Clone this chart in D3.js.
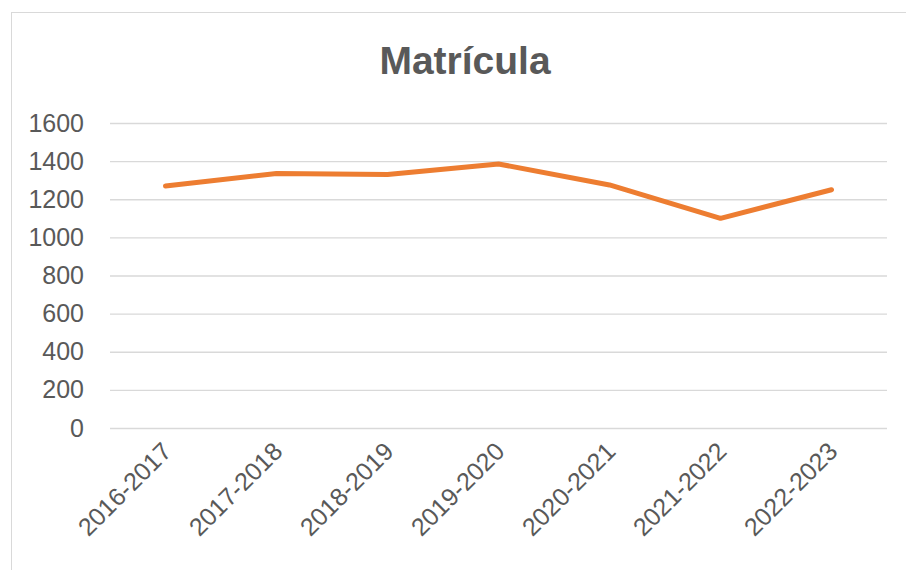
<!DOCTYPE html>
<html lang="es">
<head>
<meta charset="UTF-8">
<title>Matrícula</title>
<style>
  body { margin: 0; background: #fff; }
  svg { display: block; }
  .axis text { font-family: "Liberation Sans", Arial, sans-serif; fill: #595959; }
</style>
</head>
<body>
<svg width="906" height="570"></svg>
<script src="https://cdnjs.cloudflare.com/ajax/libs/d3/7.8.5/d3.min.js"></script>
<script>
// datos
const years = ['2016-2017', '2017-2018', '2018-2019', '2019-2020', '2020-2021', '2021-2022', '2022-2023'];
const matricula = [1270, 1335, 1330, 1385, 1275, 1100, 1250];
const yTicks = [0, 200, 400, 600, 800, 1000, 1200, 1400, 1600];

const svg = d3.select('svg');
const plotL = 110, plotR = 887, plotT = 123, plotB = 428;

// marco del gráfico
svg.append('rect')
    .attr('x', 11.5).attr('y', 12.5)
    .attr('width', 1000).attr('height', 700)
    .attr('fill', 'none')
    .attr('stroke', '#d9d9d9');

svg.append('text')
    .attr('x', 465).attr('y', 74)
    .attr('text-anchor', 'middle')
    .attr('font-family', '"Liberation Sans", Arial, sans-serif')
    .attr('font-weight', 'bold')
    .attr('font-size', 39)
    .attr('fill', '#595959')
    .text('Matrícula');

const x = d3.scalePoint().domain(years).range([plotL, plotR]).padding(0.5);
const y = d3.scaleLinear().domain([0, 1600]).range([plotB, plotT]);

// eje y + rejilla
const gy = svg.append('g')
    .attr('class', 'axis')
    .attr('transform', `translate(${plotL},0)`)
    .call(d3.axisLeft(y).tickValues(yTicks).tickFormat(d3.format('d'))
        .tickSize(-(plotR - plotL)).tickPadding(26));
gy.select('.domain').remove();
gy.selectAll('line').attr('stroke', '#d9d9d9').attr('stroke-width', 1.3);
gy.selectAll('text').attr('font-size', 25);

// eje x
const gx = svg.append('g')
    .attr('class', 'axis')
    .attr('transform', `translate(0,${plotB})`)
    .call(d3.axisBottom(x).tickSize(0).tickPadding(0));
gx.select('.domain').remove();
gx.selectAll('text')
    .attr('font-size', 25)
    .attr('text-anchor', 'end')
    .attr('dy', 0)
    .attr('transform', 'translate(7,25) rotate(-45)');

// línea
const line = d3.line()
    .x((d, i) => x(years[i]))
    .y(d => y(d));

svg.append('path')
    .datum(matricula)
    .attr('fill', 'none')
    .attr('stroke', '#ed7d31')
    .attr('stroke-width', 5)
    .attr('stroke-linecap', 'round')
    .attr('stroke-linejoin', 'round')
    .attr('d', line);
</script>
</body>
</html>
